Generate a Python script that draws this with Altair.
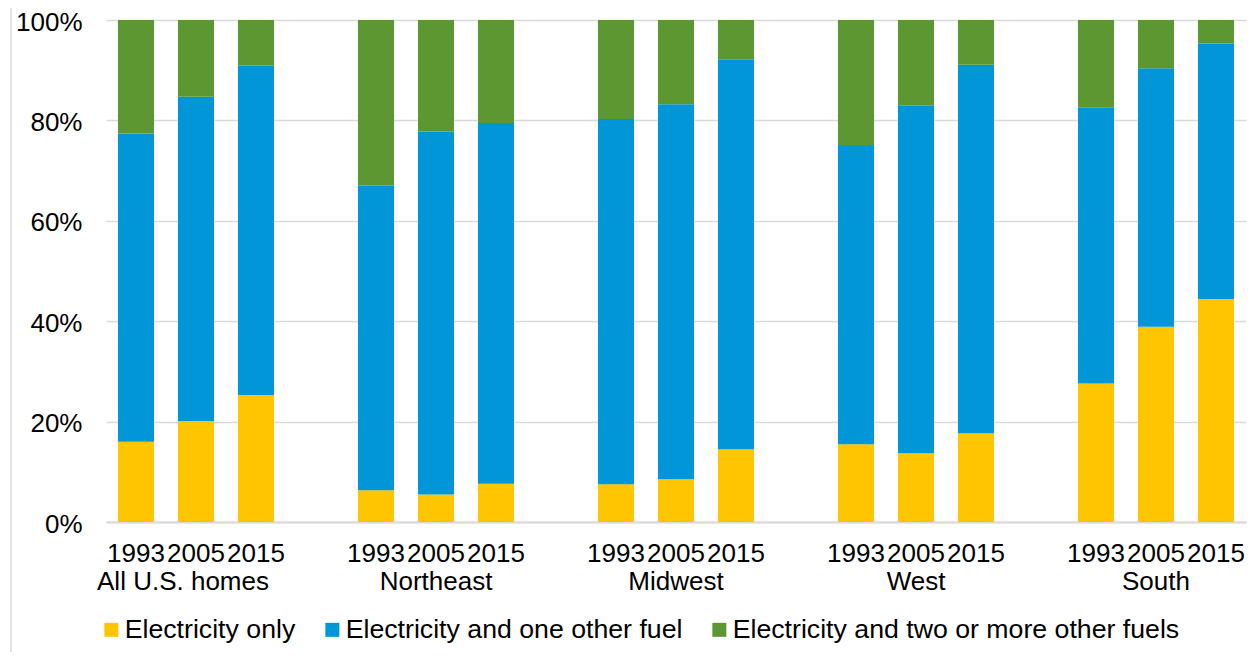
import altair as alt
import pandas as pd

regions = ["All U.S. homes", "Northeast", "Midwest", "West", "South"]
years = ["1993", "2005", "2015"]
series_names = ["Electricity only", "Electricity and one other fuel",
                "Electricity and two or more other fuels"]
colors = ["#FFC600", "#0096D7", "#5D9732"]

# values in percent, ordered region by region, 1993/2005/2015
elec_only = [16.0, 20.1, 25.3, 6.3, 5.5, 7.6, 7.5, 8.5, 14.5, 15.5, 13.7, 17.7, 27.6, 38.9, 44.4]
one_other = [61.4, 64.6, 65.6, 60.7, 72.3, 71.9, 72.8, 74.7, 77.7, 59.6, 69.2, 73.4, 54.9, 51.5, 50.9]
two_plus = [22.6, 15.3, 9.1, 33.0, 22.2, 20.5, 19.7, 16.8, 7.8, 24.9, 17.1, 8.9, 17.5, 9.6, 4.7]

y_ticks = [0, 20, 40, 60, 80, 100]

FONT = "Liberation Sans"
FS = 26

slot_domain = []
for i, r in enumerate(regions):
    for y in years:
        slot_domain.append(f"{r}|{y}")
    if i < len(regions) - 1:
        slot_domain.append(f"gap{i}")

rows = []
series_vals = [elec_only, one_other, two_plus]
for i, r in enumerate(regions):
    for j, y in enumerate(years):
        k = i * 3 + j
        for s, name in enumerate(series_names):
            rows.append(dict(slot=f"{r}|{y}", series=name, value=series_vals[s][k], order=s))
df = pd.DataFrame(rows)

df_reg = pd.DataFrame({"slot": [f"{r}|2005" for r in regions], "name": regions,
                       "first": [i == 0 for i in range(len(regions))]})

x_scale = alt.Scale(domain=slot_domain, paddingInner=0.4, paddingOuter=0.2)

bars = alt.Chart(df).mark_bar().encode(
    x=alt.X("slot:N", scale=x_scale, sort=slot_domain,
            axis=alt.Axis(title=None,
                          labelExpr="indexof(datum.value, '|') > 0 ? slice(datum.value, indexof(datum.value, '|') + 1) : ''",
                          labelAngle=0, labelFontSize=FS, labelFont=FONT, labelColor="#000000",
                          ticks=False, domainColor="#d9d9d9", domainWidth=2,
                          labelPadding=18, labelOverlap=False, labelBound=False,
                          labelLimit=1000, grid=False)),
    y=alt.Y("value:Q", stack="zero",
            scale=alt.Scale(domain=[0, 100], nice=False),
            axis=alt.Axis(values=y_ticks, labelExpr="datum.value + '%'", title=None,
                          domain=False, ticks=False, gridColor="#d9d9d9", gridWidth=1.5,
                          labelPadding=24, labelFontSize=FS, labelFont=FONT,
                          labelColor="#000000", labelOffset=2)),
    color=alt.Color("series:N",
                    scale=alt.Scale(domain=series_names, range=colors),
                    legend=alt.Legend(title=None, orient="none", legendX=-8, legendY=596,
                                      direction="horizontal", symbolType="square",
                                      symbolSize=196, symbolStrokeWidth=0,
                                      labelFontSize=26.7, labelFont=FONT, labelColor="#000000",
                                      labelOffset=0, columnPadding=23, labelLimit=1000,
                                      padding=0)),
    order=alt.Order("order:Q"),
)

text_base = alt.Chart(df_reg)

region_text_first = text_base.transform_filter("datum.first").mark_text(
    fontSize=FS, font=FONT, color="#000000", baseline="middle", align="center", dx=-13
).encode(
    x=alt.X("slot:N", scale=x_scale, sort=slot_domain),
    y=alt.value(562),
    text="name:N",
)

region_text = text_base.transform_filter("!datum.first").mark_text(
    fontSize=FS, font=FONT, color="#000000", baseline="middle", align="center"
).encode(
    x=alt.X("slot:N", scale=x_scale, sort=slot_domain),
    y=alt.value(562),
    text="name:N",
)

left_line = alt.Chart(pd.DataFrame({"a": [0]})).mark_rule(
    color="#d9d9d9", strokeWidth=1.5
).encode(x=alt.value(-95), y=alt.value(-20), y2=alt.value(640))

chart = alt.layer(bars, region_text_first, region_text, left_line).properties(
    width=1140, height=502,
    autosize=alt.AutoSizeParams(type="none"),
    padding={"left": 98, "top": 12, "right": 3, "bottom": 130},
).configure_view(stroke=None)

chart.save("out.html", embed_options={"renderer": "svg", "actions": False})
